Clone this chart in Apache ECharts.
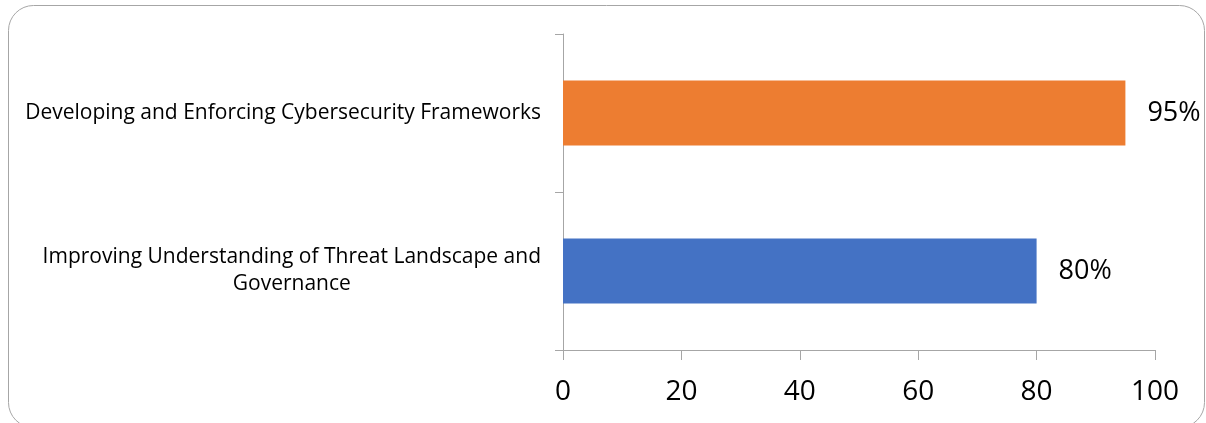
<!DOCTYPE html>
<html>
<head>
<meta charset="utf-8">
<script src="https://cdn.jsdelivr.net/npm/echarts@6/dist/echarts.min.js"></script>
<style>
  html, body { margin: 0; padding: 0; background: #fff; }
  #main { width: 1206px; height: 423px; }
</style>
</head>
<body>
<div id="main"></div>
<script>
// data
const categories = [
  'Improving Understanding of Threat Landscape and\nGovernance',
  'Developing and Enforcing Cybersecurity Frameworks'
];
const values = [80, 95];
const barColors = ['#4472C4', '#ED7D31'];

let myChart = echarts.init(document.getElementById('main'));

let option = {
  animation: false,
  graphic: [
    {
      type: 'rect',
      shape: { x: 8.5, y: 5.5, width: 1196, height: 422, r: 25 },
      style: { fill: 'none', stroke: '#a6a6a6', lineWidth: 1 },
      silent: true
    }
  ],
  grid: { left: 563, right: 51, top: 34, bottom: 73 },
  xAxis: {
    type: 'value',
    min: 0,
    max: 100,
    interval: 20,
    splitLine: { show: false },
    axisLine: { show: true, lineStyle: { color: '#a6a6a6', width: 1 } },
    axisTick: { show: true, length: 10, lineStyle: { color: '#a6a6a6' } },
    axisLabel: {
      margin: 28,
      color: '#000',
      fontSize: 28,
      fontFamily: 'Open Sans'
    }
  },
  yAxis: {
    type: 'category',
    data: categories,
    axisLine: { show: true, lineStyle: { color: '#a6a6a6', width: 1 } },
    axisTick: { show: true, length: 8, lineStyle: { color: '#a6a6a6' } },
    axisLabel: {
      margin: 22,
      color: '#000',
      fontSize: 21,
      fontFamily: 'Open Sans',
      lineHeight: 27,
      formatter: function (v) { return '{c|' + v + '}'; },
      rich: {
        c: { align: 'center', fontSize: 21, fontFamily: 'Open Sans', color: '#000', lineHeight: 27 }
      }
    }
  },
  series: [
    {
      type: 'bar',
      barCategoryGap: '59%',
      data: values.map((v, i) => ({ value: v, itemStyle: { color: barColors[i] } })),
      label: {
        show: true,
        position: 'right',
        distance: 22,
        color: '#000',
        fontSize: 27,
        fontFamily: 'Open Sans',
        formatter: '{c}%'
      }
    }
  ]
};

myChart.setOption(option);
</script>
</body>
</html>
